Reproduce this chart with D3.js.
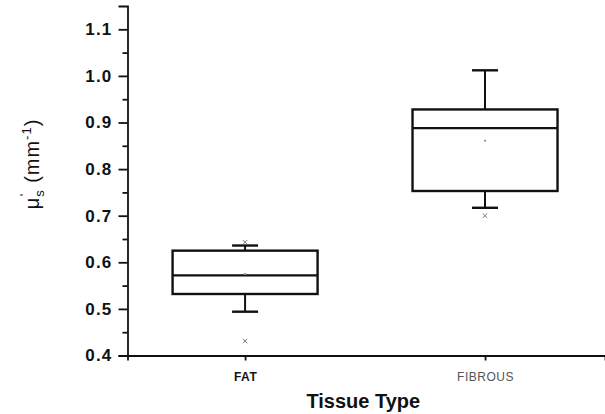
<!DOCTYPE html>
<html>
<head>
<meta charset="utf-8">
<script src="https://cdnjs.cloudflare.com/ajax/libs/d3/7.8.5/d3.min.js"></script>
<style>
  body { margin: 0; background: #fff; }
  svg { display: block; font-family: "Liberation Sans", Arial, sans-serif; }
  .axis path, .axis line { stroke: #111; stroke-width: 1.8px; }
  .axis text { fill: #111; }
</style>
</head>
<body>
<div id="graph"></div>
<script>

/*******************************************************
 *                                                     *
 *                   CHART DATA                        *
 *                                                     *
 ******************************************************/

var categories  = ["FAT", "FIBROUS"];
var whiskerLow  = [0.494, 0.717];
var boxLow      = [0.532, 0.753];
var medians     = [0.572, 0.888];
var boxHigh     = [0.625, 0.928];
var whiskerHigh = [0.636, 1.012];
var means       = [0.575, 0.861];
var minMarks    = [0.431, 0.700];   // the little "x" marks
var maxMarks    = [0.643, null];
var yTicks      = [0.4, 0.5, 0.6, 0.7, 0.8, 0.9, 1.0, 1.1];


/*******************************************************
 *                                                     *
 *                   BUILD CHART                       *
 *                                                     *
 ******************************************************/

var margin = {top: 6, right: 0, bottom: 58.5, left: 127.5},
      width  = 605 - margin.left - margin.right,
      height = 414 - margin.top - margin.bottom;

var x = d3.scaleLinear()
          .domain([0.51, 2.5])
          .range([0, width]);

var y = d3.scaleLinear()
          .domain([0.4, 1.15])
          .range([height, 0]);

var boxWidth = 145,
    capWidth = 26;

var svg = d3.select("#graph").append("svg")
            .attr("width", 605)
            .attr("height", 414)
            .append("g")
            .attr("transform", "translate(" + margin.left + "," + margin.top + ")");

var data = categories.map(function(c, i) {
    return {
      name: c, pos: i + 1,
      wl: whiskerLow[i], q1: boxLow[i], med: medians[i], q3: boxHigh[i], wh: whiskerHigh[i],
      mean: means[i], mn: minMarks[i], mx: maxMarks[i]
    };
});

// minor ticks on the y axis
svg.append("g")
   .attr("class", "axis")
   .call(d3.axisLeft(y)
   .tickValues(d3.range(0.45, 1.15, 0.1))
   .tickSize(5)
   .tickFormat(""))
   .select(".domain").remove();

// y axis
var yAxis = svg.append("g")
               .attr("class", "axis")
               .call(d3.axisLeft(y)
               .tickValues(yTicks)
               .tickSizeOuter(0)
               .tickSize(9)
               .tickPadding(6)
               .tickFormat(d3.format(".1f")));

yAxis.selectAll("text")
     .style("font-size", "17px")
     .style("font-weight", "bold")
     .style("letter-spacing", "1.2px");

// x axis
var xAxis = svg.append("g")
               .attr("class", "axis")
               .attr("transform", "translate(0," + height + ")")
               .call(d3.axisBottom(x)
               .tickValues([1, 2])
               .tickSizeOuter(0)
               .tickSize(5)
               .tickPadding(12)
               .tickFormat(function(d) { return categories[d - 1]; }));

xAxis.selectAll("text")
     .style("font-size", "12px")
     .style("letter-spacing", "0.5px")
     .style("font-weight", function(d) { return d == 1 ? "bold" : "normal"; })
     .style("fill", function(d) { return d == 1 ? "#111" : "#555"; });

// boxes
var box = svg.selectAll(".box")
             .data(data)
             .enter().append("g")
             .attr("class", "box")
             .attr("stroke", "#111")
             .attr("fill", "none");

box.append("line")
   .attr("x1", function(d) { return x(d.pos) })
   .attr("x2", function(d) { return x(d.pos) })
   .attr("y1", function(d) { return y(d.wh) })
   .attr("y2", function(d) { return y(d.q3) })
   .attr("stroke-width", 2);

box.append("line")
   .attr("x1", function(d) { return x(d.pos) })
   .attr("x2", function(d) { return x(d.pos) })
   .attr("y1", function(d) { return y(d.q1) })
   .attr("y2", function(d) { return y(d.wl) })
   .attr("stroke-width", 2);

box.append("line")
   .attr("x1", function(d) { return x(d.pos) - capWidth / 2 })
   .attr("x2", function(d) { return x(d.pos) + capWidth / 2 })
   .attr("y1", function(d) { return y(d.wh) })
   .attr("y2", function(d) { return y(d.wh) })
   .attr("stroke-width", 2.4);

box.append("line")
   .attr("x1", function(d) { return x(d.pos) - capWidth / 2 })
   .attr("x2", function(d) { return x(d.pos) + capWidth / 2 })
   .attr("y1", function(d) { return y(d.wl) })
   .attr("y2", function(d) { return y(d.wl) })
   .attr("stroke-width", 2.4);

box.append("rect")
   .attr("x", function(d) { return x(d.pos) - boxWidth / 2 })
   .attr("y", function(d) { return y(d.q3) })
   .attr("width", boxWidth)
   .attr("height", function(d) { return y(d.q1) - y(d.q3) })
   .attr("stroke-width", 2.4);

box.append("line")
   .attr("x1", function(d) { return x(d.pos) - boxWidth / 2 })
   .attr("x2", function(d) { return x(d.pos) + boxWidth / 2 })
   .attr("y1", function(d) { return y(d.med) })
   .attr("y2", function(d) { return y(d.med) })
   .attr("stroke-width", 2.4);

// mean dot
box.append("rect")
   .attr("x", function(d) { return x(d.pos) - 1 })
   .attr("y", function(d) { return y(d.mean) - 1 })
   .attr("width", 2)
   .attr("height", 2)
   .attr("stroke", "none")
   .attr("fill", "#999");

// small x marks for min / max
var marks = [];
data.forEach(function(d) {
    if (d.mn != null) marks.push({pos: d.pos, v: d.mn});
    if (d.mx != null) marks.push({pos: d.pos, v: d.mx});
});

svg.selectAll(".mark")
   .data(marks)
   .enter().append("path")
   .attr("class", "mark")
   .attr("d", function(d) {
       var cx = x(d.pos), cy = y(d.v), r = 2.2;
       return "M" + (cx - r) + "," + (cy - r) + "L" + (cx + r) + "," + (cy + r) +
              "M" + (cx - r) + "," + (cy + r) + "L" + (cx + r) + "," + (cy - r);
   })
   .attr("stroke", "#777")
   .attr("stroke-width", 1);

// axis titles
svg.append("text")
   .attr("x", (width) / 2 - 3)
   .attr("y", height + 52)
   .attr("text-anchor", "middle")
   .style("font-size", "20px")
   .style("font-weight", "bold")
   .style("fill", "#111")
   .text("Tissue Type");

var yLabel = svg.append("text")
                .attr("transform", "translate(" + (-margin.left + 39) + "," + (164 - margin.top) + ") rotate(-90)")
                .attr("text-anchor", "middle")
                .style("font-size", "20px")
                .style("letter-spacing", "1px")
                .style("fill", "#111");

yLabel.append("tspan").text("\u03bc");
yLabel.append("tspan").attr("dy", 5).style("font-size", "13px").text("s");
yLabel.append("tspan").attr("dy", -15).attr("dx", -7).style("font-size", "13px").text("'");
yLabel.append("tspan").attr("dy", 10).attr("dx", 10).text("(mm");
yLabel.append("tspan").attr("dy", -8).style("font-size", "13px").text("-1");
yLabel.append("tspan").attr("dy", 8).text(")");

</script>
</body>
</html>
